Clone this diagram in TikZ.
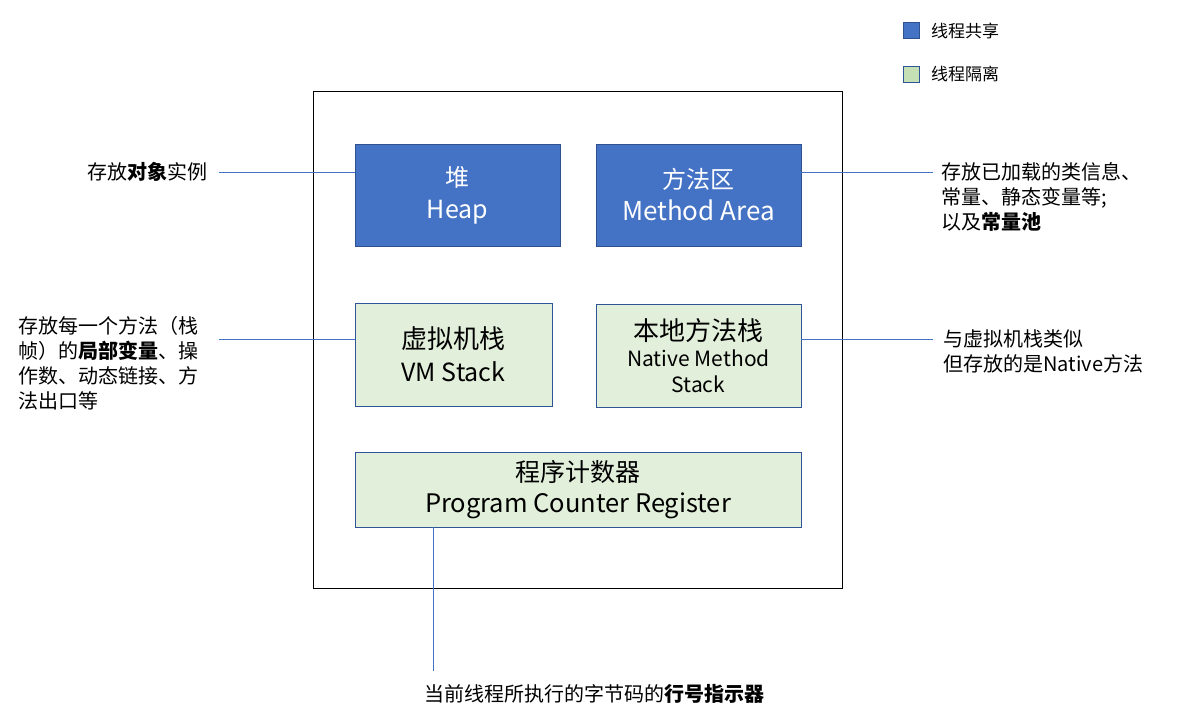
\documentclass[tikz,border=0pt]{standalone}
\usepackage{fontspec}
\setmainfont{Noto Sans CJK SC}
\definecolor{shareblue}{HTML}{4472C4}
\definecolor{shareborder}{HTML}{2F528F}
\definecolor{isofill}{HTML}{E2EFDA}
\definecolor{isoborder}{HTML}{2F5597}
\definecolor{legendgreen}{HTML}{C5E0B4}
\newcommand{\fs}[2]{\fontsize{#1}{#2}\selectfont}
\tikzset{
  sharedbox/.style={draw=shareborder, fill=shareblue, text=white, line width=0.8pt, inner sep=0pt, align=center},
  isobox/.style={draw=isoborder, fill=isofill, text=black, line width=0.8pt, inner sep=0pt, align=center},
  note/.style={inner sep=0pt, align=left, font=\fs{20}{25}},
  conn/.style={draw=shareblue, line width=0.8pt},
  legendsq/.style={minimum size=16pt, inner sep=0pt, line width=0.8pt},
}
\begin{document}
\begin{tikzpicture}[x=1pt,y=-1pt]
\useasboundingbox (0,0) rectangle (1188,719);
% legend
\node[legendsq, draw=shareborder, fill=shareblue] (lgs) at (911,30) {};
\node[anchor=west, inner sep=0pt, font=\fs{17}{20}] (lgst) at (931,31) {线程共享};
\node[legendsq, draw=isoborder, fill=legendgreen] (lgi) at (911,74) {};
\node[anchor=west, inner sep=0pt, font=\fs{17}{20}] (lgit) at (931,74) {线程隔离};
% outer frame
\node[draw=black, line width=0.8pt, minimum width=529pt, minimum height=497pt, inner sep=0pt] (frame) at (577.5,339.5) {};
% boxes
\node[sharedbox, minimum width=205pt, minimum height=102pt, font=\fs{24}{32}] (heap) at (457.5,195) {堆\\{\fs{25}{32}Heap}};
\node[sharedbox, minimum width=205pt, minimum height=102pt, font=\fs{24}{32}] (method) at (698.5,195) {方法区\\{\fs{26}{32}Method Area}};
\node[isobox, minimum width=197pt, minimum height=103pt, font=\fs{25}{33}] (vm) at (453.5,354.5) {{\fs{26}{33}虚拟机栈}\\VM Stack};
\node[isobox, minimum width=205pt, minimum height=103pt, font=\fs{21}{26}] (native) at (698.5,356) {{\fs{26}{26}本地方法栈}\\Native Method\\Stack};
\node[isobox, minimum width=446pt, minimum height=75pt, font=\fs{25}{31}] (pc) at (578,489.5) {程序计数器\\{\fs{25.5}{31}Program Counter Register}};
% notes
\node[note, anchor=east] (nheap) at (208,172) {存放\textbf{对象}实例};
\node[note, anchor=west] (nmethod) at (941,197) {存放已加载的类信息、\\常量、静态变量等;\\以及\textbf{常量池}};
\node[note, anchor=west] (nvm) at (18,363.5) {存放每一个方法（栈\\帧）的\textbf{局部变量}、操\\作数、动态链接、方\\法出口等};
\node[note, anchor=west] (nnative) at (943,351.5) {与虚拟机栈类似\\但存放的是Native方法};
\node[note, anchor=center] (npc) at (594,694) {当前线程所执行的字节码的\textbf{行号指示器}};
% connector ends
\coordinate (cheap) at (219,172);
\coordinate (cmethod) at (933,172);
\coordinate (cvm) at (219,339);
\coordinate (cnative) at (933,339);
\coordinate (cpc) at (433,671);
\draw[conn] (heap.west |- cheap) -- (cheap);
\draw[conn] (method.east |- cmethod) -- (cmethod);
\draw[conn] (vm.west |- cvm) -- (cvm);
\draw[conn] (native.east |- cnative) -- (cnative);
\draw[conn] (pc.south -| cpc) -- (cpc);
\end{tikzpicture}
\end{document}
